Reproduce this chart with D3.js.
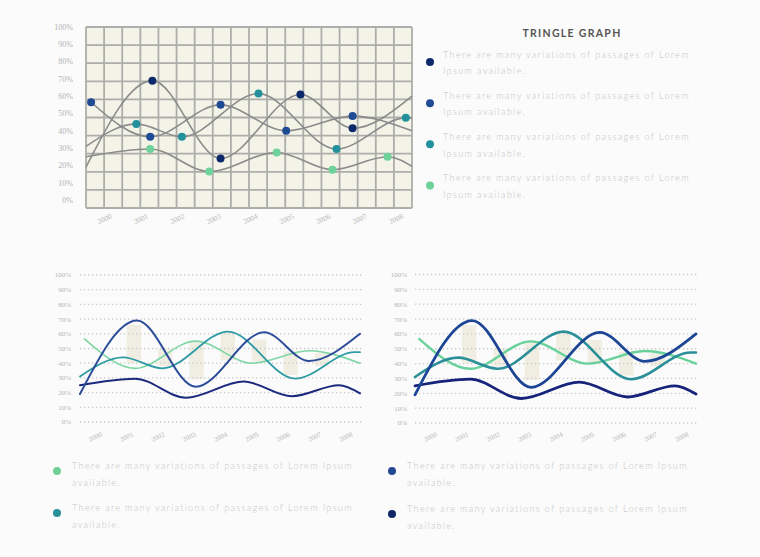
<!DOCTYPE html>
<html><head><meta charset="utf-8">
<script src="https://cdn.jsdelivr.net/npm/d3@7"></script>
<style>
html,body{margin:0;padding:0;background:#fbfbfb;}
svg{display:block;}
</style></head>
<body>
<svg id="chart" width="760" height="557"></svg>
<script>
// ---------------- data ----------------
const years = [2000, 2001, 2002, 2003, 2004, 2005, 2006, 2007, 2008];
const yTicks = [0, 10, 20, 30, 40, 50, 60, 70, 80, 90, 100];
const xDomain = [1999.28, 2008.22];

const s1Years = [1999.28, 2001.10, 2002.97, 2005.16, 2006.59, 2008.22];
const s1Values = [19, 69, 24, 61, 41.5, 60];
const s2Years = [1999.42, 2001.04, 2002.97, 2004.77, 2006.59, 2008.22];
const s2Values = [56.5, 36.5, 55, 40, 48.5, 40];
const s3Years = [1999.28, 2000.66, 2001.91, 2004.01, 2006.15, 2008.05, 2008.22];
const s3Values = [31, 44, 36.5, 61.5, 29.5, 47.5, 47.5];
const s4Years = [1999.28, 2001.04, 2002.66, 2004.51, 2006.04, 2007.55, 2008.22];
const s4Values = [25, 29.5, 16.5, 27.5, 17.5, 25, 19.5];

const barYears = [2001, 2002, 2003, 2004, 2005, 2006, 2007];
const barHigh = [66, 50, 55, 61, 56, 48, 47];
const barLow = [40, 38, 29, 42, 41, 32, 38];

const title = "TRINGLE GRAPH";
const legendLine1 = "There are many variations of passages of Lorem";
const legendLine2 = "Ipsum available.";
const legendLong1 = "There are many variations of passages of Lorem Ipsum";
const legendLong2 = "available.";

// ---------------- styles ----------------
const topDotColors = ["#0c2a6b", "#1f4b94", "#22919b", "#6ed39b"];
const bottomLeftColors = ["#2b4c98", "#7dd6a4", "#2e9aa3", "#1b2a7d"];
const bottomRightColors = ["#1d4595", "#69d19a", "#2a8f99", "#16237a"];
const series = [
  {x: s1Years, v: s1Values},
  {x: s2Years, v: s2Values},
  {x: s3Years, v: s3Values},
  {x: s4Years, v: s4Values}
].map(s => s.x.map((x, i) => ({x, v: s.v[i]})));

const svg = d3.select("#chart");
const tickFont = "'Liberation Serif', serif";
const textFont = "Lato, 'Open Sans', sans-serif";
const legendColor = "#c6c6c6";

// ---------------- top chart ----------------
(function(){
  const L = 86, R = 412, Y0 = 200, Y100 = 27, GB = 208;
  const x = d3.scaleLinear().domain(xDomain).range([L, R]);
  const y = d3.scaleLinear().domain([0, 100]).range([Y0, Y100]);
  const gx = d3.scaleLinear().domain([0, 18]).range([L, R]);
  const gy = d3.scaleLinear().domain([0, 10]).range([GB, Y100]);
  const g = svg.append("g");
  g.append("rect").attr("x", L).attr("y", Y100).attr("width", R - L).attr("height", GB - Y100)
    .attr("fill", "#f4f3e8");
  g.selectAll("line.v").data(d3.range(19)).join("line")
    .attr("x1", d => gx(d)).attr("x2", d => gx(d)).attr("y1", Y100).attr("y2", GB)
    .attr("stroke", "#adadaa").attr("stroke-width", 1.8);
  g.selectAll("line.h").data(d3.range(11)).join("line")
    .attr("x1", L).attr("x2", R).attr("y1", d => gy(d)).attr("y2", d => gy(d))
    .attr("stroke", "#adadaa").attr("stroke-width", 1.8);

  g.selectAll("text.yl").data(yTicks).join("text")
    .attr("x", 73).attr("y", d => y(d)).attr("dy", "0.35em")
    .attr("text-anchor", "end").attr("font-family", tickFont).attr("font-size", 8)
    .attr("fill", "#b3b3b3").text(d => d + "%");
  g.selectAll("text.xl").data(years).join("text")
    .attr("text-anchor", "end").attr("font-family", tickFont).attr("font-size", 7.5)
    .attr("fill", "#b8b8b8")
    .attr("transform", d => `translate(${x(d)},218) rotate(-25)`)
    .text(d => d);

  const line = d3.line().x(d => x(d.x)).y(d => y(d.v)).curve(d3.curveMonotoneX);
  series.forEach(s => {
    g.append("path").attr("d", line(s)).attr("fill", "none")
      .attr("stroke", "#8b8b8b").attr("stroke-width", 1.6);
  });
  series.forEach((s, i) => {
    g.selectAll(null).data(s.filter(d => d.x > xDomain[0] && d.x < xDomain[1])).join("circle")
      .attr("cx", d => x(d.x)).attr("cy", d => y(d.v)).attr("r", 4)
      .attr("fill", topDotColors[i]);
  });
})();

// ---------------- top legend ----------------
(function(){
  const g = svg.append("g");
  g.append("text").attr("x", 572).attr("y", 33).attr("dy", "0.35em")
    .attr("text-anchor", "middle").attr("font-family", textFont).attr("font-weight", 700)
    .attr("font-size", 10.5).attr("letter-spacing", 1.3).attr("fill", "#555")
    .text(title);
  const ry = d3.scaleLinear().domain([0, 3]).range([62, 185.5]);
  d3.range(4).forEach(i => {
    g.append("circle").attr("cx", 430).attr("cy", ry(i)).attr("r", 4).attr("fill", topDotColors[i]);
    [legendLine1, legendLine2].forEach((t, k) => {
      g.append("text").attr("x", 443).attr("y", ry(i) - 7.5 + k * 16.5).attr("dy", "0.35em")
        .attr("font-family", textFont).attr("font-weight", 300).attr("font-size", 9.2)
        .attr("letter-spacing", 1.3).attr("fill", legendColor).text(t);
    });
  });
})();

// ---------------- bottom charts ----------------
function bottomChart(L, R, GR, Y0, Y100, labelX, colors, widths){
  const x = d3.scaleLinear().domain(xDomain).range([L, R]);
  const y = d3.scaleLinear().domain([0, 100]).range([Y0, Y100]);
  const g = svg.append("g");
  const bw = (x(2001) - x(2000)) * 0.46;
  g.selectAll("rect.bar").data(barYears).join("rect")
    .attr("x", (d) => x(d) - bw / 2).attr("width", bw)
    .attr("y", (d, i) => y(barHigh[i])).attr("height", (d, i) => y(barLow[i]) - y(barHigh[i]))
    .attr("fill", "#f0eee3");
  g.selectAll("line.grid").data(yTicks).join("line")
    .attr("x1", L).attr("x2", GR).attr("y1", d => y(d)).attr("y2", d => y(d))
    .attr("stroke", "#c9c9c9").attr("stroke-width", 1.3)
    .attr("stroke-dasharray", "1.3 2.7");
  g.selectAll("text.yl").data(yTicks).join("text")
    .attr("x", labelX).attr("y", d => y(d)).attr("dy", "0.35em")
    .attr("text-anchor", "end").attr("font-family", tickFont).attr("font-size", 7)
    .attr("fill", "#b5b5b5").text(d => d + "%");
  g.selectAll("text.xl").data(years).join("text")
    .attr("text-anchor", "end").attr("font-family", tickFont).attr("font-size", 7)
    .attr("fill", "#b8b8b8")
    .attr("transform", d => `translate(${x(d)},436) rotate(-25)`)
    .text(d => d);
  const line = d3.line().x(d => x(d.x)).y(d => y(d.v)).curve(d3.curveMonotoneX);
  [1, 2, 3, 0].forEach(i => {
    g.append("path").attr("d", line(series[i])).attr("fill", "none")
      .attr("stroke", colors[i]).attr("stroke-width", widths[i]).attr("stroke-linecap", "round");
  });
}
bottomChart(80, 360, 363, 422, 275, 71, bottomLeftColors, [2, 1.6, 1.8, 2]);
bottomChart(415, 696, 698, 423, 274.5, 407, bottomRightColors, [2.8, 2.4, 2.6, 2.8]);

// ---------------- bottom legends ----------------
(function(){
  const items = [
    {cx: 57, cy: 471, c: "#6fcf97"},
    {cx: 57, cy: 513, c: "#2a9199"},
    {cx: 392, cy: 471, c: "#244a94"},
    {cx: 392, cy: 514, c: "#0e2569"}
  ];
  const g = svg.append("g");
  items.forEach(it => {
    g.append("circle").attr("cx", it.cx).attr("cy", it.cy).attr("r", 4).attr("fill", it.c);
    [legendLong1, legendLong2].forEach((t, k) => {
      g.append("text").attr("x", it.cx + 15).attr("y", it.cy - 5 + k * 16.5).attr("dy", "0.35em")
        .attr("font-family", textFont).attr("font-weight", 300).attr("font-size", 9.2)
        .attr("letter-spacing", 1.3).attr("fill", legendColor).text(t);
    });
  });
})();
</script>
</body></html>
